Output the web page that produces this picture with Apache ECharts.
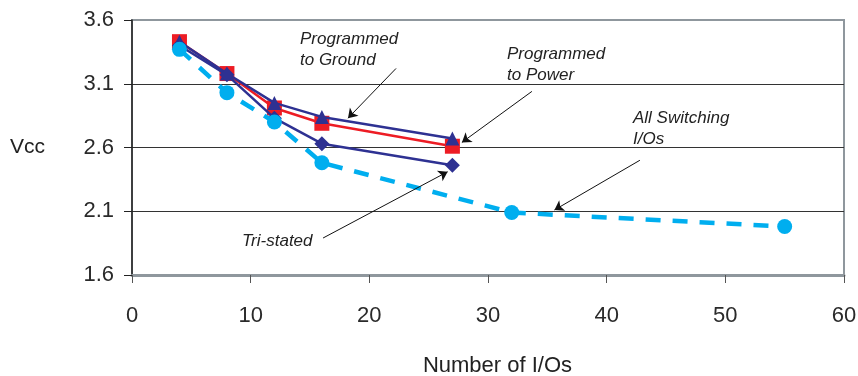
<!DOCTYPE html>
<html>
<head>
<meta charset="utf-8">
<script src="https://cdn.jsdelivr.net/npm/echarts@6/dist/echarts.min.js"></script>
<style>
  html, body { margin: 0; padding: 0; background: #fff; }
  #chart { width: 858px; height: 376px; }
</style>
</head>
<body>
<div id="chart"></div>
<script>
// x values (number of I/Os)
const ioCounts = [4, 8, 12, 16, 27];
const ioCountsAll = [4, 8, 12, 16, 32, 55];

// Vcc readings
const toGround = [3.43, 3.18, 2.95, 2.84, 2.67];
const toPower = [3.43, 3.18, 2.91, 2.79, 2.61];
const triStated = [3.40, 3.17, 2.83, 2.63, 2.46];
const allSwitching = [3.37, 3.03, 2.80, 2.48, 2.09, 1.98];

const yTicks = [1.6, 2.1, 2.6, 3.1, 3.6];
const xTicks = [0, 10, 20, 30, 40, 50, 60];

// annotation arrows, in data coords [from, to]
const arrows = [
  [[22.25, 3.22], [18.2, 2.83]],
  [[33.7, 3.04], [27.8, 2.64]],
  [[42.8, 2.50], [35.6, 2.11]],
  [[16.1, 1.89], [26.6, 2.41]]
];

const FONT = '"Liberation Sans", Arial, Helvetica, sans-serif';

function pairs(xs, ys) {
  return xs.map((x, i) => [x, ys[i]]);
}

const chart = echarts.init(document.getElementById("chart"));

const option = {
  animation: false,
  backgroundColor: "#fff",
  grid: {
    left: 132,
    right: 14,
    top: 20,
    bottom: 101,
    outerBoundsMode: "none",
    show: true,
    backgroundColor: "#fff",
    borderColor: "#8f979d",
    borderWidth: 2,
  },
  xAxis: {
    type: "value",
    min: xTicks[0],
    max: xTicks[xTicks.length - 1],
    interval: 10,
    name: "Number of I/Os",
    nameLocation: "middle",
    nameGap: 80,
    nameTextStyle: {
      fontFamily: FONT,
      fontSize: 22,
      color: "#222",
      verticalAlign: "top",
      padding: [0, 0, 0, 19],
    },
    axisLine: { lineStyle: { color: "#8f979d", width: 3 } },
    axisTick: { show: true, length: 8, lineStyle: { color: "#555" } },
    axisLabel: { fontFamily: FONT, fontSize: 22, color: "#2a2a2a", margin: 30 },
    splitLine: { show: false },
  },
  yAxis: {
    type: "value",
    min: yTicks[0],
    max: yTicks[yTicks.length - 1],
    interval: 0.5,
    name: "Vcc",
    nameLocation: "middle",
    nameRotate: 0,
    nameGap: 87,
    nameTextStyle: { fontFamily: FONT, fontSize: 21, color: "#222" },
    axisLine: { show: true, lineStyle: { color: "#222", width: 1.5 } },
    axisTick: { show: true, length: 8, lineStyle: { color: "#222" } },
    axisLabel: {
      fontFamily: FONT,
      fontSize: 22,
      color: "#2a2a2a",
      margin: 18,
      formatter: (v) => v.toFixed(1),
    },
    splitLine: {
      show: true,
      showMinLine: false,
      showMaxLine: false,
      lineStyle: { color: "#333", width: 1.2 },
    },
  },
  series: [
    {
      name: "Programmed to Power",
      type: "line",
      data: pairs(ioCounts, toPower),
      symbol: "rect",
      symbolSize: 15,
      lineStyle: { color: "#ed1c24", width: 2.5 },
      itemStyle: { color: "#ed1c24" },
      z: 2,
    },
    {
      name: "Programmed to Ground",
      type: "line",
      data: pairs(ioCounts, toGround),
      symbol: "triangle",
      symbolSize: 14,
      lineStyle: { color: "#2e3192", width: 2.5 },
      itemStyle: { color: "#2e3192" },
      z: 3,
    },
    {
      name: "Tri-stated",
      type: "line",
      data: pairs(ioCounts, triStated),
      symbol: "diamond",
      symbolSize: 15,
      lineStyle: { color: "#2e3192", width: 2.5 },
      itemStyle: { color: "#2e3192" },
      z: 3,
    },
    {
      name: "All Switching I/Os",
      type: "line",
      data: pairs(ioCountsAll, allSwitching),
      symbol: "circle",
      symbolSize: 15,
      lineStyle: { color: "#00aeef", width: 4.5, type: [15, 12] },
      itemStyle: { color: "#00aeef" },
      z: 4,
    },
    {
      name: "arrows",
      type: "line",
      data: [],
      silent: true,
      markLine: {
        silent: true,
        symbol: ["none", "arrow"],
        symbolSize: 9,
        label: { show: false },
        lineStyle: { color: "#111", width: 1, type: "solid" },
        data: arrows.map((a) => [{ coord: a[0] }, { coord: a[1] }]),
      },
      z: 5,
    },
  ],
  graphic: [
    { type: "text", left: 300, top: 29, style: { text: "Programmed\nto Ground", font: "italic 17px " + FONT, lineHeight: 21, fill: "#222" } },
    { type: "text", left: 507, top: 44, style: { text: "Programmed\nto Power", font: "italic 17px " + FONT, lineHeight: 21, fill: "#222" } },
    { type: "text", left: 633, top: 108, style: { text: "All Switching\nI/Os", font: "italic 17px " + FONT, lineHeight: 21, fill: "#222" } },
    { type: "text", left: 242, top: 231, style: { text: "Tri-stated", font: "italic 17px " + FONT, lineHeight: 21, fill: "#222" } },
  ],
};

chart.setOption(option);
window.addEventListener("resize", () => {
  chart && chart.resize();
});
</script>
</body>
</html>
